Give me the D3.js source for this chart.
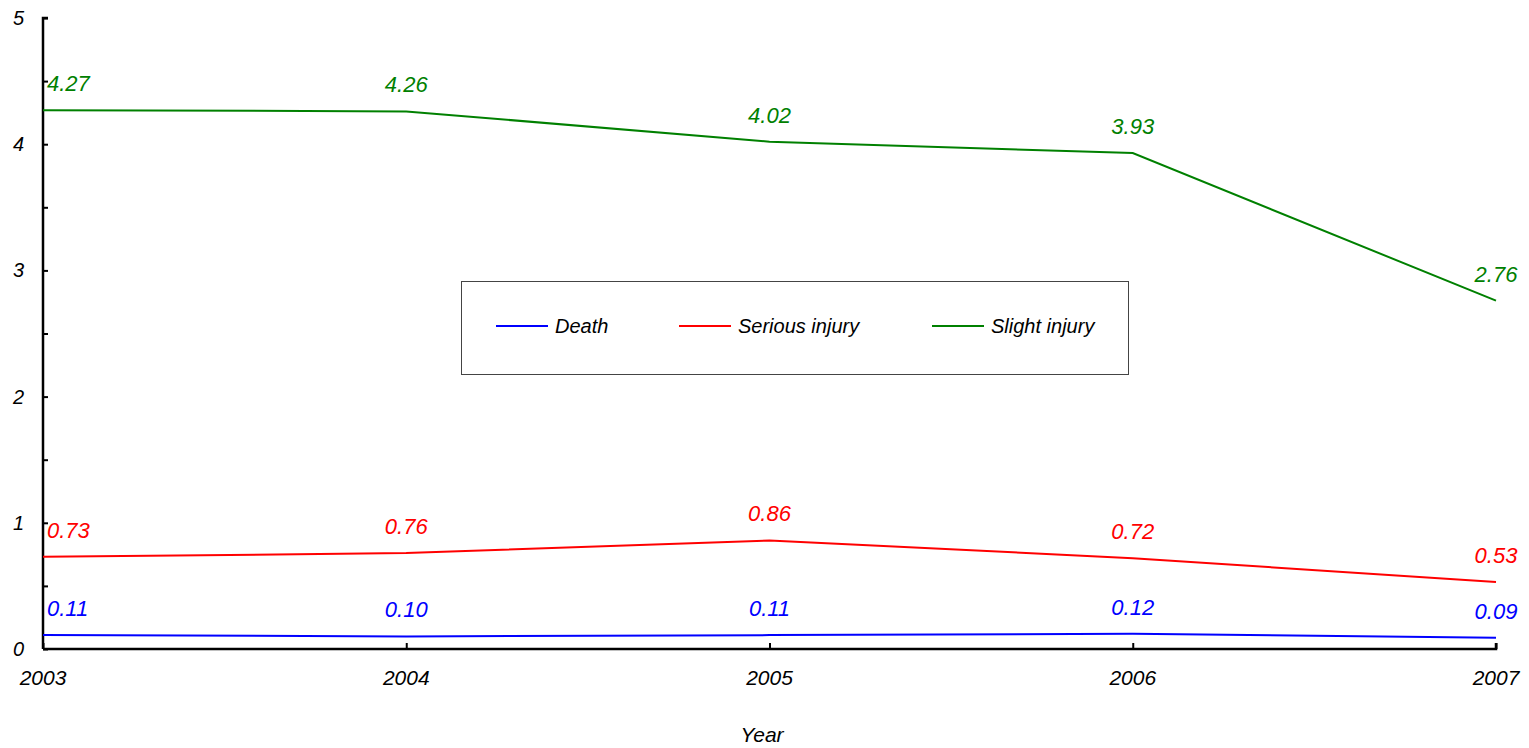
<!DOCTYPE html>
<html>
<head>
<meta charset="utf-8">
<script src="https://cdn.jsdelivr.net/npm/d3@7"></script>
<style>
  body { margin: 0; background: #fff; }
  text { font-family: "Liberation Sans", Arial, sans-serif; font-style: italic; }
</style>
</head>
<body>
<svg id="chart"></svg>
<script>
var years = [2003, 2004, 2005, 2006, 2007];
var death = [0.11, 0.10, 0.11, 0.12, 0.09];
var serious = [0.73, 0.76, 0.86, 0.72, 0.53];
var slight = [4.27, 4.26, 4.02, 3.93, 2.76];
var seriesNames = ["Death", "Serious injury", "Slight injury"];
var seriesColors = ["#0000ff", "#ff0000", "#008000"];
var yTicks = [0, 1, 2, 3, 4, 5];

var width = 1529, height = 748;
var svg = d3.select("#chart").attr("width", width).attr("height", height);

var x = d3.scaleLinear().domain([2003, 2007]).range([43, 1496]);
var y = d3.scaleLinear().domain([0, 5]).range([649, 18]);

// axes
var yAxis = d3.axisRight(y).tickValues(d3.range(0, 5.01, 0.5)).tickSize(5).tickFormat("");
var gy = svg.append("g").attr("transform", "translate(" + x(2003) + ",0)").call(yAxis);
var xAxis = d3.axisTop(x).tickValues(years).tickSize(6).tickFormat("");
var gx = svg.append("g").attr("transform", "translate(0," + y(0) + ")").call(xAxis);
[gx, gy].forEach(function(g) {
  g.select(".domain").attr("stroke", "#000").attr("stroke-width", 2.5);
  g.selectAll(".tick line").attr("stroke", "#000").attr("stroke-width", 2);
});
gx.select(".domain").attr("d", "M" + x(2003) + ",0H" + x(2007) + "V-6");
gy.select(".domain").attr("d", "M0," + y(0) + "V" + y(5) + "H5");

svg.selectAll(".ylab").data(yTicks).enter().append("text")
  .attr("x", 24).attr("y", function(d) { return y(d); })
  .attr("dy", "0.35em").attr("text-anchor", "end")
  .attr("font-size", 20).text(function(d) { return d; });

svg.selectAll(".xlab").data(years).enter().append("text")
  .attr("x", function(d) { return x(d); }).attr("y", 685)
  .attr("text-anchor", "middle").attr("font-size", 21)
  .text(function(d) { return d; });

svg.append("text").attr("x", 762).attr("y", 742).attr("text-anchor", "middle")
  .attr("font-size", 21).text("Year");

// lines
var allSeries = [death, serious, slight];
var line = d3.line().x(function(d, i) { return x(years[i]); }).y(function(d) { return y(d); });

allSeries.forEach(function(vals, s) {
  svg.append("path").datum(vals).attr("d", line)
    .attr("fill", "none").attr("stroke", seriesColors[s]).attr("stroke-width", 2);
  svg.selectAll(".lab" + s).data(vals).enter().append("text")
    .attr("x", function(d, i) { return i === 0 ? x(years[i]) + 4 : x(years[i]); })
    .attr("y", function(d) { return y(d) - 19; })
    .attr("text-anchor", function(d, i) { return i === 0 ? "start" : "middle"; })
    .attr("font-size", 22).attr("fill", seriesColors[s])
    .text(function(d) { return d.toFixed(2); });
});

// legend
var lg = svg.append("g");
lg.append("rect").attr("x", 461.5).attr("y", 281.5).attr("width", 667).attr("height", 93)
  .attr("fill", "#fff").attr("stroke", "#444").attr("stroke-width", 1);
var legX = [496, 679, 932];
seriesNames.forEach(function(n, i) {
  lg.append("line").attr("x1", legX[i]).attr("x2", legX[i] + 52).attr("y1", 326).attr("y2", 326)
    .attr("stroke", seriesColors[i]).attr("stroke-width", 2);
  lg.append("text").attr("x", legX[i] + 59).attr("y", 326).attr("dy", "0.35em")
    .attr("font-size", 20).text(n);
});
</script>
</body>
</html>
